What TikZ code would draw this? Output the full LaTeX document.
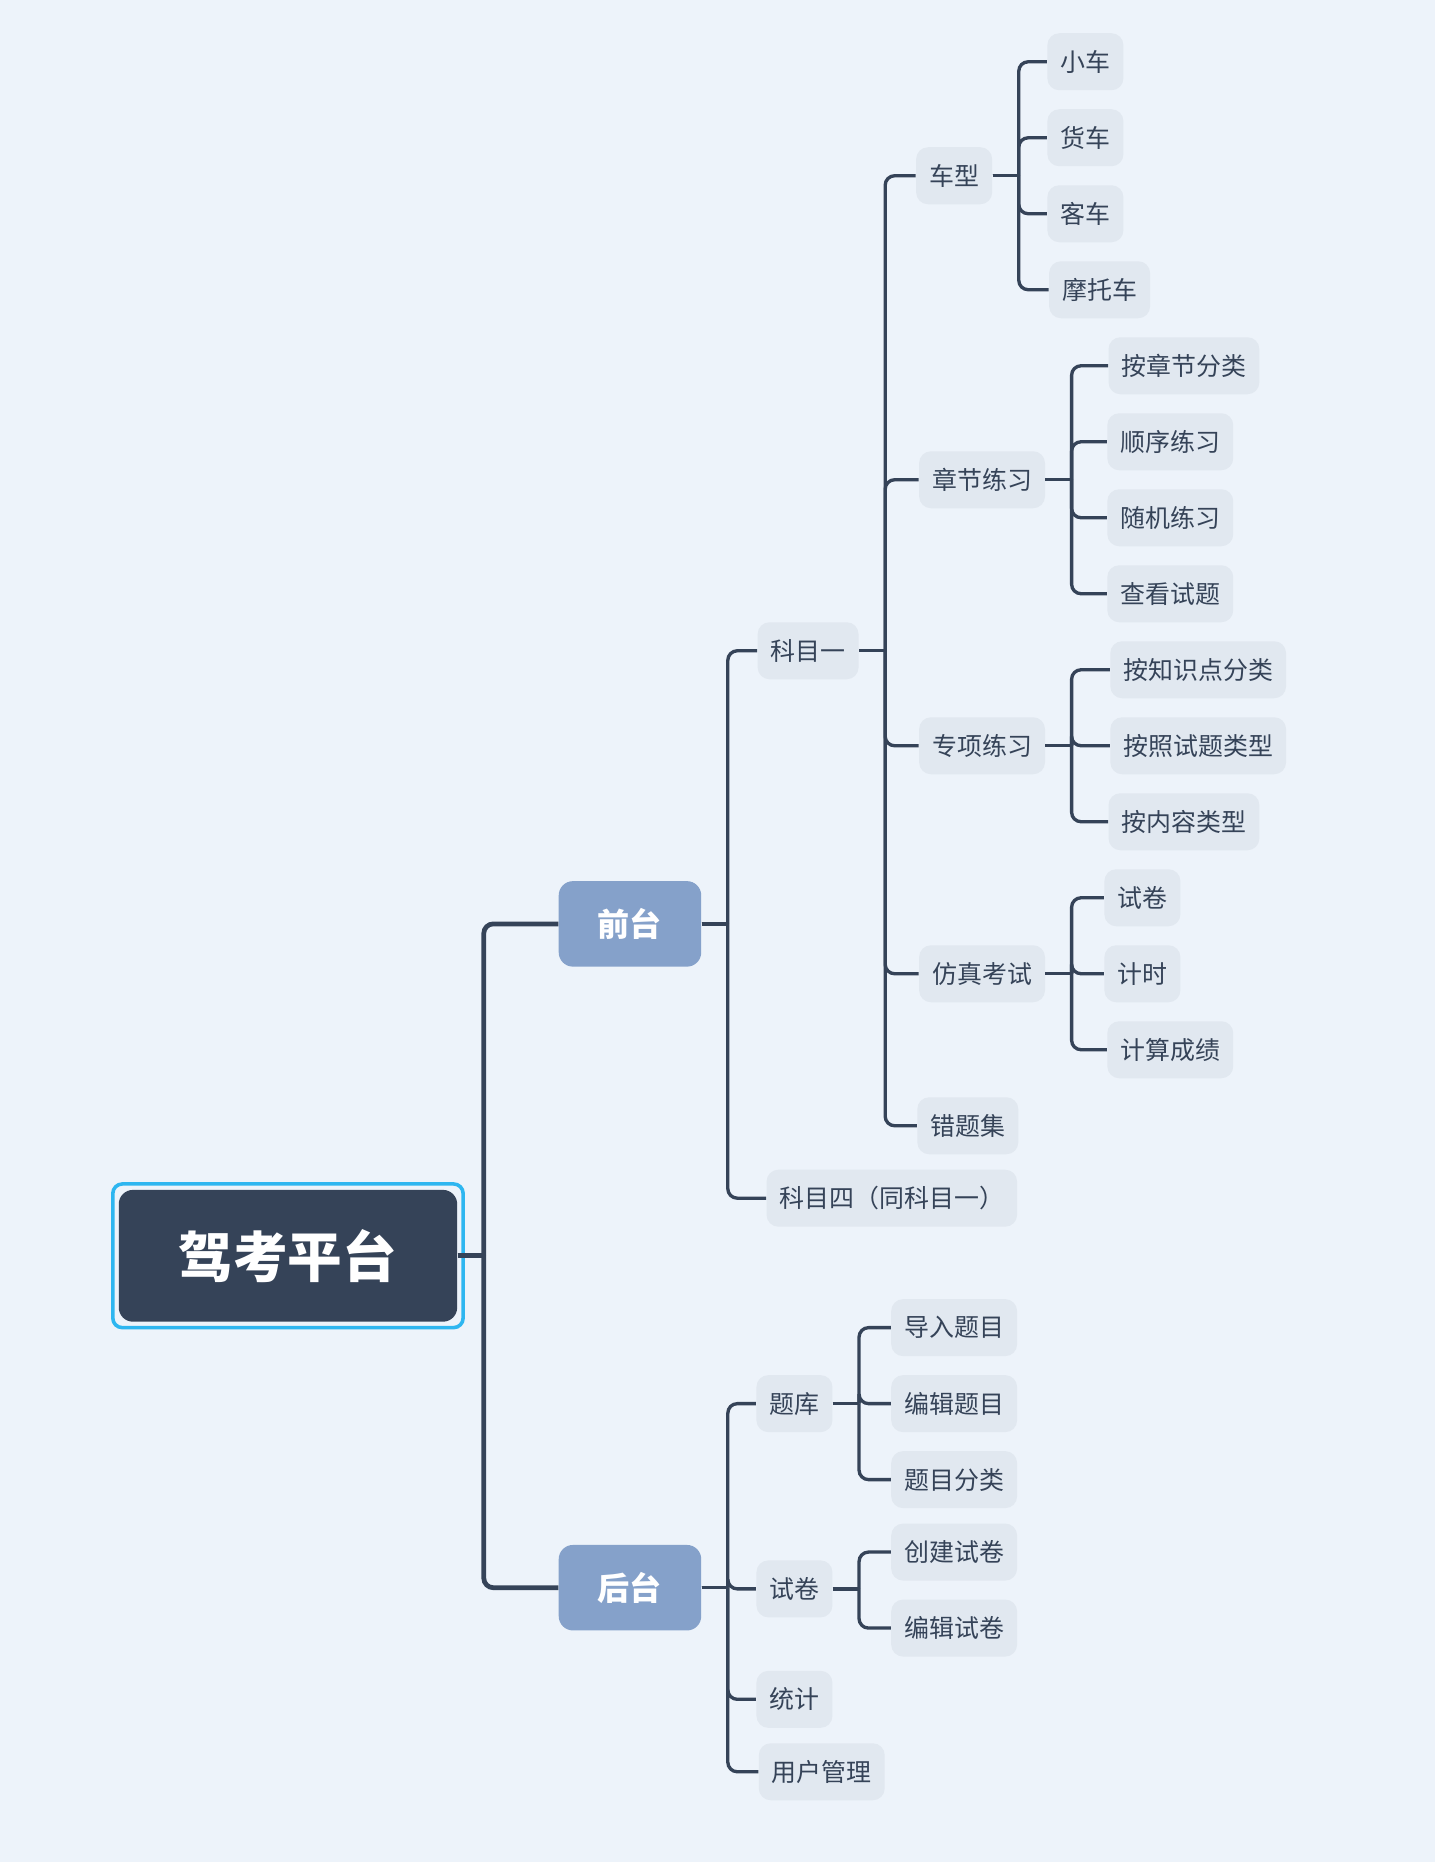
\documentclass[tikz,border=0pt]{standalone}
\usepackage{fontspec}
\setmainfont{Noto Sans CJK SC}
\usetikzlibrary{calc}
\definecolor{bg}{HTML}{EDF3FA}
\definecolor{dark}{HTML}{354358}
\definecolor{mid}{HTML}{85A1CA}
\definecolor{leaf}{HTML}{E1E8F0}
\definecolor{cyanb}{HTML}{2EB6F0}
\tikzset{
  leafbox/.style={fill=leaf,rounded corners=5pt,minimum height=24pt,inner xsep=5.5pt,text=dark,font=\fontsize{10.5}{12}\selectfont},
  midbox/.style={fill=mid,rounded corners=6pt,minimum height=36pt,minimum width=60pt,text=white,font=\fontsize{13.5}{15}\selectfont\bfseries},
  rootbox/.style={fill=dark,rounded corners=6pt,minimum height=55.5pt,minimum width=142.5pt,text=white,font=\fontsize{23}{26}\selectfont\bfseries,
    double=cyanb? ,},
  ln/.style={draw=dark,line width=1.4pt},
  lnt/.style={draw=dark,line width=2pt},
}
\newcommand{\conn}[4][ln]{\draw[#1] (#2.east) -- ++(#3,0);\draw[#1,rounded corners=4pt] ($(#2.east)+(#3,0)$) |- (#4.west);}
\begin{document}
\begin{tikzpicture}[x=0.5pt,y=-0.5pt]
\fill[bg] (0,0) rectangle (1208,1568);
\useasboundingbox (0,0) rectangle (1208,1568);
\draw[cyanb,line width=1.5pt,rounded corners=4pt] (95,997) rectangle (390,1118);
\node[fill=dark,rounded corners=6pt,minimum height=55.5pt,minimum width=142.5pt,text=white,font=\fontsize{23}{26}\selectfont\bfseries] (root) at (242.5,1057.5) {驾考平台};
\node[midbox] (qt) at (530.5,778) {前台};
\node[midbox] (ht) at (530.5,1337) {后台};
\node[leafbox] (k1) at (680.5,548) {科目一};
\node[leafbox] (k4) at (751,1009) {科目四（同科目一）};
\node[leafbox] (tk) at (669,1182) {题库};
\node[leafbox] (sj) at (669,1338) {试卷};
\node[leafbox] (tj) at (669,1431) {统计};
\node[leafbox] (yh) at (692,1492) {用户管理};
\node[leafbox] (cx) at (803.5,148) {车型};
\node[leafbox] (zj) at (827,404) {章节练习};
\node[leafbox] (zx) at (827,628) {专项练习};
\node[leafbox] (fz) at (827,820) {仿真考试};
\node[leafbox] (ct) at (815,948) {错题集};
\node[leafbox] (a1) at (914,52) {小车};
\node[leafbox] (a2) at (914,116) {货车};
\node[leafbox] (a3) at (914,180) {客车};
\node[leafbox] (a4) at (926,244) {摩托车};
\node[leafbox] (b1) at (997,308) {按章节分类};
\node[leafbox] (b2) at (985.5,372) {顺序练习};
\node[leafbox] (b3) at (985.5,436) {随机练习};
\node[leafbox] (b4) at (985.5,500) {查看试题};
\node[leafbox] (c1) at (1009,564) {按知识点分类};
\node[leafbox] (c2) at (1009,628) {按照试题类型};
\node[leafbox] (c3) at (997,692) {按内容类型};
\node[leafbox] (d1) at (962,756) {试卷};
\node[leafbox] (d2) at (962,820) {计时};
\node[leafbox] (d3) at (985.5,884) {计算成绩};
\node[leafbox] (e1) at (803.5,1118) {导入题目};
\node[leafbox] (e2) at (803.5,1182) {编辑题目};
\node[leafbox] (e3) at (803.5,1246) {题目分类};
\node[leafbox] (f1) at (803.5,1307) {创建试卷};
\node[leafbox] (f2) at (803.5,1371) {编辑试卷};
\conn[lnt]{root}{22}{qt}\conn[lnt]{root}{22}{ht}
\foreach \c in {k1,k4}{\conn{qt}{22}{\c}}
\foreach \c in {tk,sj,tj,yh}{\conn{ht}{22}{\c}}
\foreach \c in {cx,zj,zx,fz,ct}{\conn{k1}{22}{\c}}
\foreach \c in {a1,a2,a3,a4}{\conn{cx}{22}{\c}}
\foreach \c in {b1,b2,b3,b4}{\conn{zj}{22}{\c}}
\foreach \c in {c1,c2,c3}{\conn{zx}{22}{\c}}
\foreach \c in {d1,d2,d3}{\conn{fz}{22}{\c}}
\foreach \c in {e1,e2,e3}{\conn{tk}{22}{\c}}
\foreach \c in {f1,f2}{\conn{sj}{22}{\c}}
\end{tikzpicture}
\end{document}
